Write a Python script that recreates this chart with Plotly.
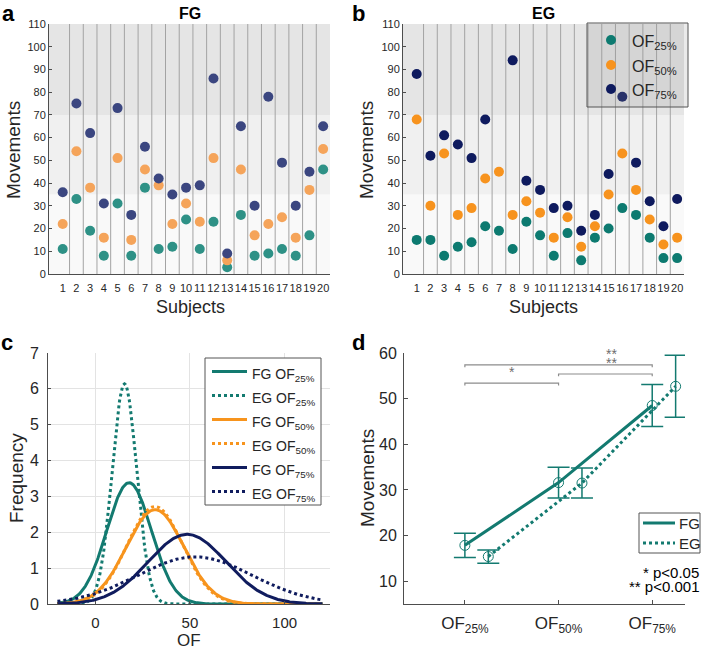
import numpy as np
import plotly.graph_objects as go

# ---------------- data ----------------
subjects = list(range(1, 21))
fg_of25 = [11, 33, 19, 8, 31, 8, 38, 11, 12, 24, 11, 23, 3, 26, 8, 9, 11, 8, 17, 46]
fg_of50 = [22, 54, 38, 16, 51, 15, 46, 39, 22, 31, 23, 51, 6, 46, 17, 22, 25, 16, 37, 55]
fg_of75 = [36, 75, 62, 31, 73, 26, 56, 42, 35, 38, 39, 86, 9, 65, 30, 78, 49, 30, 45, 65]
eg_of25 = [15, 15, 8, 12, 14, 21, 19, 11, 23, 17, 8, 18, 6, 16, 20, 29, 26, 16, 7, 7]
eg_of50 = [68, 30, 53, 26, 29, 42, 45, 26, 32, 27, 16, 25, 12, 21, 35, 53, 37, 24, 13, 16]
eg_of75 = [88, 52, 61, 57, 51, 68, 144, 94, 41, 37, 29, 30, 19, 26, 44, 78, 49, 32, 21, 33]
of_keys = ["25", "50", "75"]
of_labels = ["OF<sub>25%</sub>", "OF<sub>50%</sub>", "OF<sub>75%</sub>"]
of_positions = [1, 2, 3]
eg_offset = 0.25
band_edges = [0, 35, 70, 110]
band_colors = ["#f9f9f9", "#f0f0f0", "#e5e5e5"]
ytick_ab = list(range(0, 111, 10))
xtick_c = [0, 50, 100]
curve_range = (-20, 120)
hist_scale = 100  # N subjects x bin width
sig_pairs = [(1, 3, 57.4, "**", 2.57), (2, 3, 55.4, "**", 2.57), (1, 2, 53.4, "*", 1.5)]

FONT = "Arial, Liberation Sans, sans-serif"
TXT = "#262626"
AX = "#4d4d4d"

col_a = {"25": "#2e9186", "50": "#f5a45a", "75": "#3b4680"}
col_b = {"25": "#0d7a70", "50": "#f7931e", "75": "#0e1a5e"}
col_c = {"25": "#137a70", "50": "#f7941d", "75": "#101c5e"}
teal_d = "#137a70"

W, H = 704, 650


def dx(x0, x1):
    return [x0 / W, x1 / W]


def dy(top, bottom):
    return [1 - bottom / H, 1 - top / H]


def px(x):
    return x / W


def py(y):
    return 1 - y / H


fig = go.Figure()

# ---------------- panel a ----------------
for key, vals in zip(of_keys, [fg_of25, fg_of50, fg_of75]):
    fig.add_trace(go.Scatter(x=subjects, y=vals, mode="markers", xaxis="x", yaxis="y",
                             marker=dict(size=10, color=col_a[key]), showlegend=False))

# ---------------- panel b ----------------
for key, vals in zip(of_keys, [eg_of25, eg_of50, eg_of75]):
    fig.add_trace(go.Scatter(x=subjects, y=vals, mode="markers", xaxis="x2", yaxis="y2",
                             marker=dict(size=10, color=col_b[key]), showlegend=False))

# ---------------- panel c ----------------
xs = np.linspace(curve_range[0], curve_range[1], 400)


def normal_curve(vals):
    v = np.asarray(vals, dtype=float)
    mu, sd = v.mean(), v.std(ddof=1)
    return hist_scale * np.exp(-0.5 * ((xs - mu) / sd) ** 2) / (sd * np.sqrt(2 * np.pi))


groups_c = [("FG", "25", fg_of25, "solid"), ("EG", "25", eg_of25, "dot"),
            ("FG", "50", fg_of50, "solid"), ("EG", "50", eg_of50, "dot"),
            ("FG", "75", fg_of75, "solid"), ("EG", "75", eg_of75, "dot")]
for g, key, vals, dash in groups_c:
    fig.add_trace(go.Scatter(x=xs, y=normal_curve(vals), mode="lines", xaxis="x3", yaxis="y3",
                             line=dict(color=col_c[key], width=3, dash=dash), showlegend=False))

# ---------------- panel d ----------------
fg_sets = [fg_of25, fg_of50, fg_of75]
eg_sets = [eg_of25, eg_of50, eg_of75]
fg_mean = [float(np.mean(v)) for v in fg_sets]
fg_sem = [float(np.std(v, ddof=1) / np.sqrt(len(v))) for v in fg_sets]
eg_mean = [float(np.mean(v)) for v in eg_sets]
eg_sem = [float(np.std(v, ddof=1) / np.sqrt(len(v))) for v in eg_sets]

fig.add_trace(go.Scatter(x=of_positions, y=fg_mean, mode="lines+markers", xaxis="x4", yaxis="y4",
                         line=dict(color=teal_d, width=3),
                         marker=dict(symbol="circle-open", size=10, color=teal_d, line=dict(width=1)),
                         error_y=dict(type="data", array=fg_sem, color=teal_d, thickness=1.5, width=11),
                         showlegend=False))
fig.add_trace(go.Scatter(x=[p + eg_offset for p in of_positions], y=eg_mean, mode="lines+markers",
                         xaxis="x4", yaxis="y4",
                         line=dict(color=teal_d, width=3, dash="dot"),
                         marker=dict(symbol="circle-open", size=10, color=teal_d, line=dict(width=1)),
                         error_y=dict(type="data", array=eg_sem, color=teal_d, thickness=1.5, width=11),
                         showlegend=False))

shapes = []
annotations = []


def ann(text, x, y, size, bold=False, angle=0, xanchor="center", yanchor="middle", color=TXT):
    t = f"<b>{text}</b>" if bold else text
    annotations.append(dict(text=t, x=px(x), y=py(y), xref="paper", yref="paper",
                            showarrow=False, textangle=angle, xanchor=xanchor, yanchor=yanchor,
                            font=dict(size=size, color=color, family=FONT)))


for xa, ya in [("x", "y"), ("x2", "y2")]:
    for (lo, hi), c in zip(zip(band_edges[:-1], band_edges[1:]), band_colors):
        shapes.append(dict(type="rect", xref=f"{xa} domain", yref=ya, x0=0, x1=1, y0=lo, y1=hi,
                           fillcolor=c, line=dict(width=0), layer="below"))
    for s in subjects[:-1]:
        shapes.append(dict(type="line", xref=xa, yref=ya, x0=s + 0.5, x1=s + 0.5, y0=0, y1=110,
                           line=dict(color="#a3a3a3", width=1), layer="below"))

for x0, x1, yl, star, sx in sig_pairs:
    shapes.append(dict(type="path", xref="x4", yref="y4",
                       path=f"M{x0},{yl-0.5} L{x0},{yl} L{x1},{yl} L{x1},{yl-0.5}",
                       line=dict(color="#8c8c8c", width=1.2)))
    annotations.append(dict(x=sx, y=yl + 0.2, xref="x4", yref="y4", text=star, showarrow=False,
                            yanchor="bottom", font=dict(size=14, color="#6e6e6e", family=FONT)))

# ---------- legend panel b (manual) ----------
shapes.append(dict(type="rect", xref="paper", yref="paper", x0=px(587), x1=px(688),
                   y0=py(107), y1=py(23), fillcolor="rgba(150,150,150,0.2)",
                   line=dict(color="#555555", width=1)))
for key, lab, ry in zip(of_keys, of_labels, [40, 65, 89]):
    shapes.append(dict(type="circle", xref="paper", yref="paper", xsizemode="pixel", ysizemode="pixel",
                       xanchor=px(611), yanchor=py(ry), x0=-5, x1=5, y0=-5, y1=5,
                       fillcolor=col_b[key], line=dict(width=0)))
    ann(lab, 630, ry + 3, 16, xanchor="left")

# ---------- legend panel c (manual) ----------
shapes.append(dict(type="rect", xref="paper", yref="paper", x0=px(205), x1=px(321),
                   y0=py(505), y1=py(358), fillcolor="white", line=dict(color="#555555", width=1)))
rows_c = [371.5, 395.5, 419.5, 443.5, 467.5, 491.5]
for (g, key, _, dash), ry in zip(groups_c, rows_c):
    shapes.append(dict(type="line", xref="paper", yref="paper", x0=px(212), x1=px(247),
                       y0=py(ry), y1=py(ry), line=dict(color=col_c[key], width=3, dash=dash)))
    ann(f"{g} OF<sub>{key}%</sub>", 250, ry + 3, 14, xanchor="left")

# ---------- legend panel d (manual) ----------
shapes.append(dict(type="rect", xref="paper", yref="paper", x0=px(639), x1=px(700),
                   y0=py(553), y1=py(513), fillcolor="white", line=dict(color="#555555", width=1)))
for lab, dash, ry in [("FG", "solid", 523), ("EG", "dot", 543)]:
    shapes.append(dict(type="line", xref="paper", yref="paper", x0=px(643), x1=px(675),
                       y0=py(ry), y1=py(ry), line=dict(color=teal_d, width=3, dash=dash)))
    ann(lab, 677, ry, 15, xanchor="left")

ann("a", 8, 13, 22, bold=True, color="black")
ann("b", 359, 13, 22, bold=True, color="black")
ann("c", 7, 342, 22, bold=True, color="black")
ann("d", 358, 342, 22, bold=True, color="black")
ann("FG", 190, 13, 16, bold=True, color="black")
ann("EG", 543, 13, 16, bold=True, color="black")
ann("Movements", 13, 150, 19, angle=-90)
ann("Movements", 366, 150, 19, angle=-90)
ann("Subjects", 190, 307, 18)
ann("Subjects", 543, 307, 18)
ann("Frequency", 16, 478, 19, angle=-90)
ann("OF", 189, 640, 17)
ann("Movements", 367, 478, 19, angle=-90)
ann("* p&lt;0.05", 701, 572, 15, xanchor="right", color="black")
ann("** p&lt;0.001", 701, 586, 15, xanchor="right", color="black")

axis_common = dict(showgrid=False, zeroline=False, showline=True, linecolor=AX, linewidth=1,
                   mirror=False, automargin=False)

layout = dict(
    width=W, height=H, margin=dict(l=0, r=0, t=0, b=0, autoexpand=False),
    paper_bgcolor="white", plot_bgcolor="white", showlegend=False, hovermode=False,
    font=dict(family=FONT, color=TXT),
    # panel a
    xaxis=dict(domain=dx(49, 330), range=[0, 20.5], tickvals=subjects, ticks="", tickangle=0,
               tickfont=dict(size=11, color=TXT), ticklabelstandoff=4, anchor="y", **axis_common),
    yaxis=dict(domain=dy(24, 274), range=[0, 110], tickvals=ytick_ab, ticks="inside", ticklen=3,
               tickcolor=AX, tickfont=dict(size=11, color=TXT), anchor="x", **axis_common),
    # panel b
    xaxis2=dict(domain=dx(403, 684), range=[0, 20.5], tickvals=subjects, ticks="", tickangle=0,
                tickfont=dict(size=11, color=TXT), ticklabelstandoff=4, anchor="y2", **axis_common),
    yaxis2=dict(domain=dy(24, 274), range=[0, 110], tickvals=ytick_ab, ticks="inside", ticklen=3,
                tickcolor=AX, tickfont=dict(size=11, color=TXT), anchor="x2", **axis_common),
    # panel c
    xaxis3=dict(domain=dx(48, 330), range=[-25, 124], tickvals=xtick_c, ticks="inside", ticklen=3,
                tickcolor=AX, showgrid=True, gridcolor="#e3e3e3", zeroline=False, showline=True,
                linecolor=AX, tickfont=dict(size=15, color=TXT), ticklabelstandoff=5, anchor="y3",
                automargin=False),
    yaxis3=dict(domain=dy(353, 604), range=[0, 7], dtick=1, ticks="inside", ticklen=3,
                tickcolor=AX, showgrid=True, gridcolor="#e3e3e3", zeroline=False, showline=True,
                linecolor=AX, tickfont=dict(size=16, color=TXT), ticklabelstandoff=5, anchor="x3",
                automargin=False),
    # panel d
    xaxis4=dict(domain=dx(404, 685), range=[0.35, 3.35], tickvals=of_positions, ticktext=of_labels,
                ticks="inside", ticklen=4, tickcolor=AX, tickfont=dict(size=17, color=TXT),
                ticklabelstandoff=4, anchor="y4", **axis_common),
    yaxis4=dict(domain=dy(353, 604), range=[5, 60], tickvals=[10, 20, 30, 40, 50, 60], ticks="inside",
                ticklen=4, tickcolor=AX, tickfont=dict(size=16, color=TXT), ticklabelstandoff=3,
                anchor="x4", **axis_common),
    shapes=shapes,
    annotations=annotations,
)
fig.update_layout(**layout)
fig.write_html("out.html", config={"displayModeBar": False},
               post_script="document.body.style.margin='0px';document.body.style.overflow='hidden';")
